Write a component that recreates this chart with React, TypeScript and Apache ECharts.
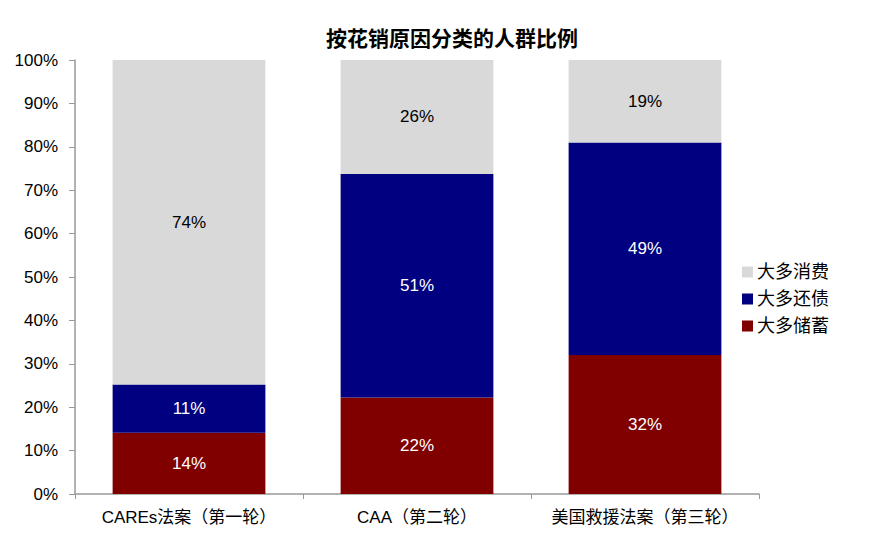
import React, { useEffect, useRef } from "react";
import * as echarts from "echarts";

const categories = ["CAREs法案（第一轮）", "CAA（第二轮）", "美国救援法案（第三轮）"];
const savings = [14, 22, 32];
const debt = [11, 51, 49];
const consumption = [74, 26, 19];
const yTicks = ["0%", "10%", "20%", "30%", "40%", "50%", "60%", "70%", "80%", "90%", "100%"];

const totals = categories.map((_, i) => savings[i] + debt[i] + consumption[i]);
const share = (arr: number[]) => arr.map((v, i) => ({ value: (v / totals[i]) * 100, raw: v }));

const FONT = "Arial, 'Liberation Sans', 'Noto Sans CJK SC', sans-serif";

export default function App() {
  const ref = useRef<HTMLDivElement>(null);
  useEffect(() => {
    if (!ref.current) return;
    const chart = echarts.init(ref.current, null, { renderer: "svg" });
    const mk = (name: string, arr: number[], color: string, labelColor: string) => ({
      name,
      type: "bar",
      stack: "total",
      barCategoryGap: "33%",
      data: share(arr),
      itemStyle: { color },
      label: {
        show: true,
        position: "inside",
        color: labelColor,
        fontSize: 17,
        fontFamily: FONT,
        formatter: (p: any) => `${p.data.raw}%`,
      },
    });
    chart.setOption({
      animation: false,
      textStyle: { fontFamily: FONT },
      title: {
        text: "按花销原因分类的人群比例",
        left: 439,
        textAlign: "center",
        top: 15,
        textStyle: { fontSize: 21, fontWeight: "bold", color: "#000", fontFamily: FONT },
      },
      legend: {
        orient: "vertical",
        left: 729,
        top: 250,
        itemWidth: 11,
        itemHeight: 11,
        itemGap: 9,
        icon: "rect",
        data: ["大多消费", "大多还债", "大多储蓄"],
        textStyle: { fontSize: 18, color: "#000", fontFamily: FONT, lineHeight: 18, padding: [0, 0, 0, -1] },
      },
      grid: { left: 67, right: 109, top: 52, bottom: 62 },
      xAxis: {
        type: "category",
        data: categories,
        axisLine: { lineStyle: { color: "#999", width: 1.5 } },
        axisTick: { show: true, length: 5, lineStyle: { color: "#999" } },
        axisLabel: { color: "#000", fontSize: 17, margin: 15, interval: 0, fontFamily: FONT },
      },
      yAxis: {
        type: "value",
        min: 0,
        max: 100,
        interval: 10,
        axisLine: { show: true, lineStyle: { color: "#999", width: 1.5 } },
        axisTick: { show: true, length: 6, lineStyle: { color: "#999" } },
        splitLine: { show: false },
        axisLabel: {
          color: "#000",
          fontSize: 17,
          margin: 17,
          fontFamily: FONT,
          formatter: (v: number) => yTicks[Math.round(v / 10)],
        },
      },
      series: [
        mk("大多储蓄", savings, "#800000", "#fff"),
        mk("大多还债", debt, "#000080", "#fff"),
        mk("大多消费", consumption, "#d9d9d9", "#000"),
      ],
    });
    return () => chart.dispose();
  }, []);
  return <div ref={ref} style={{ width: 860, height: 548 }} />;
}
